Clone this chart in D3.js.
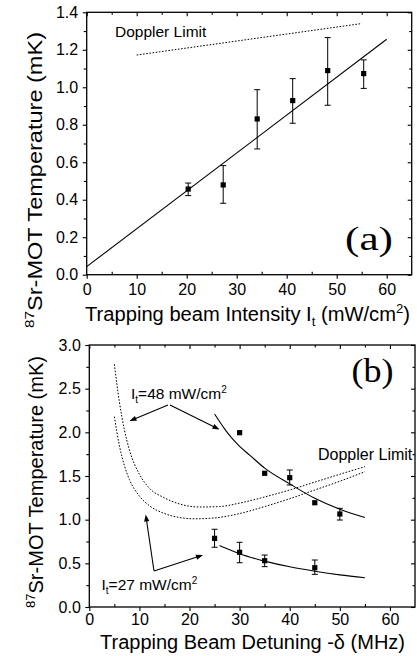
<!DOCTYPE html>
<html>
<head>
<meta charset="utf-8">
<title>Sr-MOT temperature</title>
<style>
  body { margin: 0; background: #fff; }
  svg { display: block; }
  svg text { font-family: "Liberation Sans", Arial, sans-serif; }
  svg text.serif { font-family: "Liberation Serif", "Times New Roman", serif; }
</style>
</head>
<body>
<svg id="chart" width="417" height="656"></svg>
<script src="https://cdn.jsdelivr.net/npm/d3@7"></script>
<script>
// ---- panel (a): temperature vs trapping beam intensity ----
const intensity = [20.3, 27.3, 34.1, 41.2, 48.2, 55.4];
const tempA     = [0.457, 0.479, 0.831, 0.929, 1.089, 1.073];
const errLoA    = [0.422, 0.381, 0.671, 0.808, 0.904, 0.994];
const errHiA    = [0.489, 0.582, 0.987, 1.046, 1.265, 1.146];
const fitAx     = [0, 60];
const fitAy     = [0.043, 1.256];
const dopAx     = [10, 55];
const dopAy     = [1.172, 1.340];

// ---- panel (b): temperature vs detuning ----
const detune48 = [30, 35, 40, 45, 50];
const temp48   = [1.996, 1.531, 1.481, 1.194, 1.065];
const errLo48  = [1.996, 1.531, 1.397, 1.194, 0.996];
const errHi48  = [1.996, 1.531, 1.569, 1.194, 1.130];
const detune27 = [25, 30, 35, 45];
const temp27   = [0.786, 0.626, 0.530, 0.450];
const errLo27  = [0.684, 0.507, 0.462, 0.374];
const errHi27  = [0.890, 0.741, 0.595, 0.538];

const fit48x = [25, 27, 28.5, 30, 32, 35, 40, 45, 50, 55];
const fit48y = [2.21, 2.04, 1.93, 1.84, 1.74, 1.59, 1.41, 1.245, 1.12, 1.025];
const fit27x = [26, 28, 30, 35, 40, 45, 50, 55];
const fit27y = [0.705, 0.655, 0.61, 0.525, 0.46, 0.41, 0.368, 0.335];

const dop48x = [5, 6, 7, 8, 10, 12, 15, 18, 22, 26, 30, 35, 40, 45, 50, 55];
const dop48y = [2.78, 2.35, 2.03, 1.80, 1.52, 1.36, 1.25, 1.18, 1.145, 1.15, 1.19, 1.26, 1.34, 1.43, 1.52, 1.607];
const dop27x = [5, 6, 7, 8, 10, 12, 15, 18, 21, 25, 30, 35, 40, 45, 50, 55];
const dop27y = [2.18, 1.85, 1.62, 1.46, 1.27, 1.16, 1.07, 1.025, 1.01, 1.02, 1.07, 1.15, 1.24, 1.34, 1.44, 1.55];

// ticks
const xMajor  = [0, 10, 20, 30, 40, 50, 60];
const xMinor  = [5, 15, 25, 35, 45, 55];
const yMajorA = [0, 0.2, 0.4, 0.6, 0.8, 1.0, 1.2, 1.4];
const yMinorA = [0.1, 0.3, 0.5, 0.7, 0.9, 1.1, 1.3];
const yMajorB = [0, 0.5, 1.0, 1.5, 2.0, 2.5, 3.0];
const yMinorB = [0.25, 0.75, 1.25, 1.75, 2.25, 2.75];

const svg = d3.select("#chart");
const zip = (a, b) => a.map((v, i) => [v, b[i]]);

function frame(g, x, y, yMaj, yMin, xPad) {
  const [x0, x1] = x.range(), [y0, y1] = y.range();
  const fs = 16;
  // bottom
  g.append("g").attr("transform", `translate(0,${y0})`)
    .call(d3.axisBottom(x).tickValues(xMajor).tickSize(4).tickPadding(xPad).tickFormat(d3.format("d")))
    .call(a => a.selectAll("text").attr("font-size", fs).attr("fill", "#000"));
  g.append("g").attr("transform", `translate(0,${y0})`)
    .call(d3.axisBottom(x).tickValues(xMinor).tickSize(-3).tickFormat(""));
  // top
  g.append("g").attr("transform", `translate(0,${y1})`)
    .call(d3.axisTop(x).tickValues(xMajor).tickSize(-4).tickFormat(""));
  g.append("g").attr("transform", `translate(0,${y1})`)
    .call(d3.axisTop(x).tickValues(xMinor).tickSize(-2.5).tickFormat(""));
  // left
  g.append("g").attr("transform", `translate(${x0},0)`)
    .call(d3.axisLeft(y).tickValues(yMaj).tickSize(4).tickPadding(4.5).tickFormat(d3.format(".1f")))
    .call(a => a.selectAll("text").attr("font-size", fs).attr("fill", "#000"));
  g.append("g").attr("transform", `translate(${x0},0)`)
    .call(d3.axisLeft(y).tickValues(yMin).tickSize(3).tickFormat(""));
  // right
  g.append("g").attr("transform", `translate(${x1},0)`)
    .call(d3.axisRight(y).tickValues(yMaj).tickSize(-4).tickFormat(""));
  g.append("g").attr("transform", `translate(${x1},0)`)
    .call(d3.axisRight(y).tickValues(yMin).tickSize(-2.5).tickFormat(""));
  g.selectAll("g").attr("font-family", null).attr("font-size", null);
  g.selectAll(".domain").remove();
  g.selectAll(".tick line").attr("stroke", "#000").attr("stroke-width", 1.1);
  g.append("rect")
    .attr("x", x0).attr("y", y1).attr("width", x1 - x0).attr("height", y0 - y1)
    .attr("fill", "none").attr("stroke", "#000").attr("stroke-width", 1.3);
}

function points(g, x, y, xs, ys, lo, hi) {
  xs.forEach((v, i) => {
    if (hi[i] > lo[i]) {
      g.append("line").attr("x1", x(v)).attr("x2", x(v)).attr("y1", y(lo[i])).attr("y2", y(hi[i]))
        .attr("stroke", "#000").attr("stroke-width", 1);
      [lo[i], hi[i]].forEach(e => g.append("line")
        .attr("x1", x(v) - 3).attr("x2", x(v) + 3).attr("y1", y(e)).attr("y2", y(e))
        .attr("stroke", "#000").attr("stroke-width", 1));
    }
    g.append("rect").attr("x", x(v) - 2.6).attr("y", y(ys[i]) - 2.6)
      .attr("width", 5.2).attr("height", 5.2).attr("fill", "#000");
  });
}

function arrow(g, x1, y1, x2, y2) {
  const ang = Math.atan2(y2 - y1, x2 - x1), L = 7, W = 2.6;
  g.append("line").attr("x1", x1).attr("y1", y1)
    .attr("x2", x2 - Math.cos(ang) * 4).attr("y2", y2 - Math.sin(ang) * 4)
    .attr("stroke", "#000").attr("stroke-width", 1.1);
  const bx = x2 - Math.cos(ang) * L, by = y2 - Math.sin(ang) * L;
  g.append("path")
    .attr("d", `M${x2},${y2}L${bx - Math.sin(ang) * W},${by + Math.cos(ang) * W}L${bx + Math.sin(ang) * W},${by - Math.cos(ang) * W}Z`)
    .attr("fill", "#000");
}

// ================= panel (a) =================
const xA = d3.scaleLinear().domain([0, 65]).range([86.7, 411.7]);
const yA = d3.scaleLinear().domain([0, 1.4]).range([274.7, 12.3]);
const gA = svg.append("g");
frame(gA, xA, yA, yMajorA, yMinorA, 5);

const line = d3.line();
gA.append("path").attr("d", line(zip(fitAx, fitAy).map(d => [xA(d[0]), yA(d[1])])))
  .attr("fill", "none").attr("stroke", "#000").attr("stroke-width", 1.1);
gA.append("path").attr("d", line(zip(dopAx, dopAy).map(d => [xA(d[0]), yA(d[1])])))
  .attr("fill", "none").attr("stroke", "#000").attr("stroke-width", 1).attr("stroke-dasharray", "1.6,1.6");
points(gA, xA, yA, intensity, tempA, errLoA, errHiA);

gA.append("text").attr("x", 115).attr("y", 36.5).attr("font-size", 15.5).text("Doppler Limit");
gA.append("text").attr("class", "serif").attr("x", 345).attr("y", 250).attr("font-size", 33)
  .attr("textLength", 48).attr("lengthAdjust", "spacingAndGlyphs").text("(a)");

const xlabA = gA.append("text").attr("x", 85).attr("y", 321).attr("font-size", 20)
  .attr("textLength", 325).attr("lengthAdjust", "spacingAndGlyphs");
xlabA.append("tspan").text("Trapping beam Intensity I");
xlabA.append("tspan").attr("font-size", 13).attr("dy", 5).text("t");
xlabA.append("tspan").attr("dy", -5).text(" (mW/cm");
xlabA.append("tspan").attr("font-size", 13).attr("dy", -8).text("2");
xlabA.append("tspan").attr("dy", 8).text(")");

const ylabA = gA.append("text").attr("transform", "translate(41.5,180) rotate(-90)")
  .attr("text-anchor", "middle").attr("font-size", 20)
  .attr("textLength", 296).attr("lengthAdjust", "spacingAndGlyphs");
ylabA.append("tspan").attr("font-size", 13).attr("dy", -8).text("87");
ylabA.append("tspan").attr("dy", 8).text("Sr-MOT Temperature (mK)");

// ================= panel (b) =================
const xB = d3.scaleLinear().domain([0, 65]).range([89.3, 415]);
const yB = d3.scaleLinear().domain([0, 3]).range([607, 345]);
const gB = svg.append("g");
frame(gB, xB, yB, yMajorB, yMinorB, 3);

const curve = d3.line().curve(d3.curveMonotoneX);
const drawCurve = (xs, ys, dotted) => gB.append("path")
  .attr("d", curve(zip(xs, ys).map(d => [xB(d[0]), yB(d[1])])))
  .attr("fill", "none").attr("stroke", "#000").attr("stroke-width", dotted ? 1 : 1.1)
  .attr("stroke-dasharray", dotted ? "1.6,1.6" : null);
drawCurve(dop48x, dop48y, true);
drawCurve(dop27x, dop27y, true);
drawCurve(fit48x, fit48y, false);
drawCurve(fit27x, fit27y, false);
points(gB, xB, yB, detune48, temp48, errLo48, errHi48);
points(gB, xB, yB, detune27, temp27, errLo27, errHi27);

gB.append("text").attr("class", "serif").attr("x", 351.5).attr("y", 382).attr("font-size", 33)
  .attr("textLength", 42).attr("lengthAdjust", "spacingAndGlyphs").text("(b)");
gB.append("text").attr("x", 318).attr("y", 459.5).attr("font-size", 16).text("Doppler Limit");

const lab48 = gB.append("text").attr("x", 131).attr("y", 399).attr("font-size", 15.5);
lab48.append("tspan").text("I");
lab48.append("tspan").attr("font-size", 10).attr("dy", 4).text("t");
lab48.append("tspan").attr("dy", -4).text("=48 mW/cm");
lab48.append("tspan").attr("font-size", 10).attr("dy", -6).text("2");
arrow(gB, 168, 405, 129.5, 421);
arrow(gB, 170, 405, 219.5, 429.5);

const lab27 = gB.append("text").attr("x", 101.5).attr("y", 590).attr("font-size", 15.5);
lab27.append("tspan").text("I");
lab27.append("tspan").attr("font-size", 10).attr("dy", 4).text("t");
lab27.append("tspan").attr("dy", -4).text("=27 mW/cm");
lab27.append("tspan").attr("font-size", 10).attr("dy", -6).text("2");
arrow(gB, 154, 571, 145.7, 514.5);
arrow(gB, 154, 571, 203, 555);

gB.append("text").attr("x", 100).attr("y", 649).attr("font-size", 20)
  .attr("textLength", 305).attr("lengthAdjust", "spacingAndGlyphs")
  .text("Trapping Beam Detuning -δ (MHz)");

const ylabB = gB.append("text").attr("transform", "translate(43,482) rotate(-90)")
  .attr("text-anchor", "middle").attr("font-size", 20)
  .attr("textLength", 252).attr("lengthAdjust", "spacingAndGlyphs");
ylabB.append("tspan").attr("font-size", 13).attr("dy", -8).text("87");
ylabB.append("tspan").attr("dy", 8).text("Sr-MOT Temperature (mK)");
</script>
</body>
</html>
